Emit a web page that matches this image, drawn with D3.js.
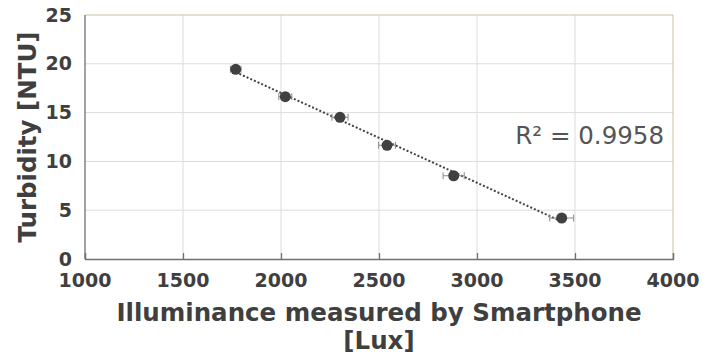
<!DOCTYPE html>
<html>
<head>
<meta charset="utf-8">
<script src="https://cdn.jsdelivr.net/npm/d3@7"></script>
<style>
  body { margin: 0; background: #fff; }
  svg text { font-family: "DejaVu Sans", sans-serif; fill: #3f3f3f; }
</style>
</head>
<body>
<div id="chart"></div>
<script>
const illuminance = [1769, 2022, 2301, 2541, 2881, 3432];
const turbidity = [19.44, 16.63, 14.52, 11.65, 8.53, 4.2];
const luxError = [27, 33, 41, 43, 54, 61];
const xTicks = [1000, 1500, 2000, 2500, 3000, 3500, 4000];
const yTicks = [0, 5, 10, 15, 20, 25];
const rSquaredLabel = "R² = 0.9958";

const width = 712, height = 360;
const margin = { left: 85, right: 39, top: 15, bottom: 101 };

const svg = d3.select("#chart")
    .append("svg")
    .attr("width", width)
    .attr("height", height);

let x = d3.scaleLinear().domain([1000, 4000]).range([margin.left, width - margin.right]);
let y = d3.scaleLinear().domain([0, 25]).range([height - margin.bottom, margin.top]);

//grid
svg.append("g")
    .selectAll("line")
    .data(xTicks.slice(1, -1))
    .enter()
    .append("line")
    .attr("x1", d => x(d)).attr("x2", d => x(d))
    .attr("y1", y(25)).attr("y2", y(0))
    .style("stroke", "#dcdcdc");

svg.append("g")
    .selectAll("line")
    .data(yTicks.slice(1, -1))
    .enter()
    .append("line")
    .attr("x1", x(1000)).attr("x2", x(4000))
    .attr("y1", d => y(d)).attr("y2", d => y(d))
    .style("stroke", "#dcdcdc");

//top and right frame
svg.append("path")
    .attr("d", `M${x(1000)},${y(25)}H${x(4000)}V${y(0)}`)
    .style("fill", "none")
    .style("stroke", "#cbbf9f");

//x axis with inward ticks
svg.append("g")
    .attr("transform", "translate(0," + y(0) + ")")
    .call(d3.axisTop(x).tickValues(xTicks).tickSize(6).tickFormat(""))
    .call(g => g.selectAll("line, path").style("stroke", "#707070").style("stroke-width", 1.3));

svg.append("g")
    .selectAll("text")
    .data(xTicks)
    .enter()
    .append("text")
    .attr("x", d => x(d))
    .attr("y", y(0) + 28)
    .attr("text-anchor", "middle")
    .style("font-size", "19px")
    .style("font-weight", "bold")
    .text(d => d);

//y axis
svg.append("line")
    .attr("x1", x(1000)).attr("x2", x(1000))
    .attr("y1", y(25)).attr("y2", y(0))
    .style("stroke", "#707070")
    .style("stroke-width", 1.3);

svg.append("g")
    .selectAll("text")
    .data(yTicks)
    .enter()
    .append("text")
    .attr("x", x(1000) - 13)
    .attr("y", d => y(d) + 6.5)
    .attr("text-anchor", "end")
    .style("font-size", "19px")
    .style("font-weight", "bold")
    .text(d => d);

//axis titles
let xTitle = svg.append("text")
    .attr("x", (x(1000) + x(4000)) / 2)
    .attr("y", 321)
    .attr("text-anchor", "middle")
    .style("font-size", "24.5px")
    .style("font-weight", "bold");
xTitle.append("tspan").text("Illuminance measured by Smartphone");
xTitle.append("tspan")
    .attr("x", (x(1000) + x(4000)) / 2)
    .attr("dy", 28)
    .text("[Lux]");

svg.append("text")
    .attr("transform", "translate(36," + 137 + ") rotate(-90)")
    .attr("text-anchor", "middle")
    .style("font-size", "24.5px")
    .style("font-weight", "bold")
    .text("Turbidity [NTU]");

//linear trend line (least squares)
let mx = d3.mean(illuminance), my = d3.mean(turbidity);
let sxy = d3.sum(illuminance, (d, i) => (d - mx) * (turbidity[i] - my));
let sxx = d3.sum(illuminance, d => (d - mx) * (d - mx));
let slope = sxy / sxx;
let intercept = my - slope * mx;
let xRange = d3.extent(illuminance);

svg.append("path")
    .datum(xRange)
    .attr("d", d3.line().x(d => x(d)).y(d => y(slope * d + intercept)))
    .style("fill", "none")
    .style("stroke", "#444")
    .style("stroke-width", 2)
    .style("stroke-dasharray", "2,2");

//error bars
let points = illuminance.map((d, i) => ({ lux: d, ntu: turbidity[i], err: luxError[i] }));

let bars = svg.append("g")
    .selectAll("g")
    .data(points)
    .enter()
    .append("g")
    .style("stroke", "#8a8a8a")
    .style("stroke-width", 1);
bars.append("line")
    .attr("x1", d => x(d.lux - d.err)).attr("x2", d => x(d.lux + d.err))
    .attr("y1", d => y(d.ntu)).attr("y2", d => y(d.ntu));
bars.append("line")
    .attr("x1", d => x(d.lux - d.err)).attr("x2", d => x(d.lux - d.err))
    .attr("y1", d => y(d.ntu) - 3.5).attr("y2", d => y(d.ntu) + 3.5);
bars.append("line")
    .attr("x1", d => x(d.lux + d.err)).attr("x2", d => x(d.lux + d.err))
    .attr("y1", d => y(d.ntu) - 3.5).attr("y2", d => y(d.ntu) + 3.5);

//markers
svg.append("g")
    .selectAll("circle")
    .data(points)
    .enter()
    .append("circle")
    .attr("cx", d => x(d.lux))
    .attr("cy", d => y(d.ntu))
    .attr("r", 5.5)
    .style("fill", "#404040");

svg.append("text")
    .attr("x", 664)
    .attr("y", 144)
    .attr("text-anchor", "end")
    .style("font-size", "24.5px")
    .style("fill", "#555")
    .text(rSquaredLabel);
</script>
</body>
</html>
